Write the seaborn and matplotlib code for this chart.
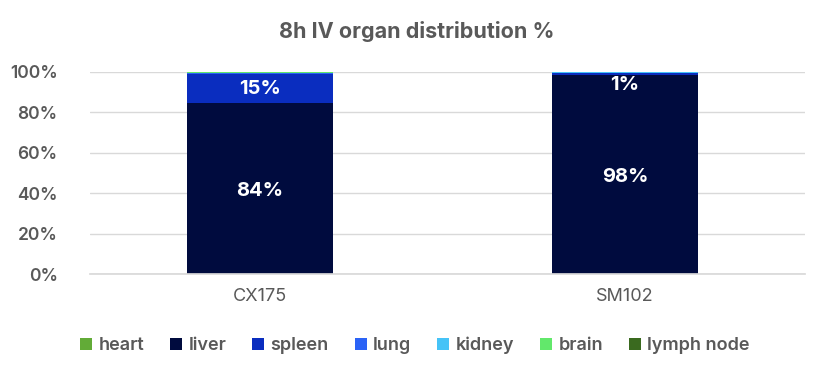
import numpy as np
import pandas as pd
import matplotlib.pyplot as plt
import seaborn as sns
from matplotlib.patches import Patch
from matplotlib.ticker import PercentFormatter

# organ shares (%) per formulation, bottom -> top of the stack
samples = ["CX175", "SM102"]
organs = ["heart", "liver", "spleen", "lung", "kidney", "brain", "lymph node"]
heart = [0.1, 0.05]
liver = [84.3, 98.2]
spleen = [14.6, 1.0]
lung = [0.5, 0.4]
kidney = [0.1, 0.25]
brain = [0.4, 0.05]
lymph = [0.0, 0.05]
labels_liver = ["84%", "98%"]
labels_spleen = ["15%", "1%"]

colors = ["#62ab37", "#000b3e", "#0a2dbf", "#2b63f6", "#46c3f7", "#62e86b", "#3a6a1f"]
TXT = "#595959"

sns.set_theme(style="white")
plt.rcParams['font.family'] = ['Inter', 'DejaVu Sans']

df = pd.DataFrame({"heart": heart, "liver": liver, "spleen": spleen, "lung": lung,
                   "kidney": kidney, "brain": brain, "lymph node": lymph}, index=samples)
cum = df.cumsum(axis=1)

fig = plt.figure(figsize=(8.3, 3.76), dpi=100)
ax = fig.add_axes([0.108, 0.271, 0.862, 0.538])

# draw cumulative bars from the top down so each layer shows its own share
for organ, col in reversed(list(zip(organs, colors))):
    sns.barplot(x=samples, y=cum[organ].values, color=col, width=0.4,
                saturation=1, ax=ax, edgecolor="none", linewidth=0)

for i in range(len(samples)):
    ax.text(i, heart[i] + liver[i] / 2 - 1, labels_liver[i], ha="center", va="center",
            color="white", fontsize=14.5, fontweight="bold")
    # small segments: label is pushed down inside the bar, as the source does
    y_sp = min(cum["liver"].iloc[i] + spleen[i] / 2, 93.5)
    ax.text(i, y_sp, labels_spleen[i], ha="center", va="center",
            color="white", fontsize=14.5, fontweight="bold")

ax.set_ylim(0, 100)
ax.set_xlim(-0.466, 1.493)
ax.set_yticks(np.arange(0, 101, 20))
ax.yaxis.set_major_formatter(PercentFormatter(decimals=0))
ax.grid(axis="y", color="#d9d9d9", linewidth=1)
ax.set_axisbelow(True)
for s in ["top", "right", "left"]:
    ax.spines[s].set_visible(False)
ax.spines["bottom"].set_color("#d9d9d9")
ax.tick_params(axis="y", labelsize=12.5, labelcolor=TXT, length=0, pad=23)
ax.tick_params(axis="x", labelsize=13, labelcolor=TXT, length=0, pad=10)
for t in ax.get_yticklabels():
    t.set_fontweight("semibold")

fig.suptitle("8h IV organ distribution %", x=0.502, y=0.945, fontsize=15.5,
             fontweight="bold", color=TXT)

handles = [Patch(facecolor=c, edgecolor="none") for c in colors]
fig.legend(handles, organs, loc="center", bbox_to_anchor=(0.5, 0.082), ncol=7,
           frameon=False, handlelength=0.65, handleheight=0.65, handletextpad=0.35,
           columnspacing=1.45, prop={"size": 13, "weight": "semibold"}, labelcolor=TXT)

fig.savefig("out.png", dpi=100)
